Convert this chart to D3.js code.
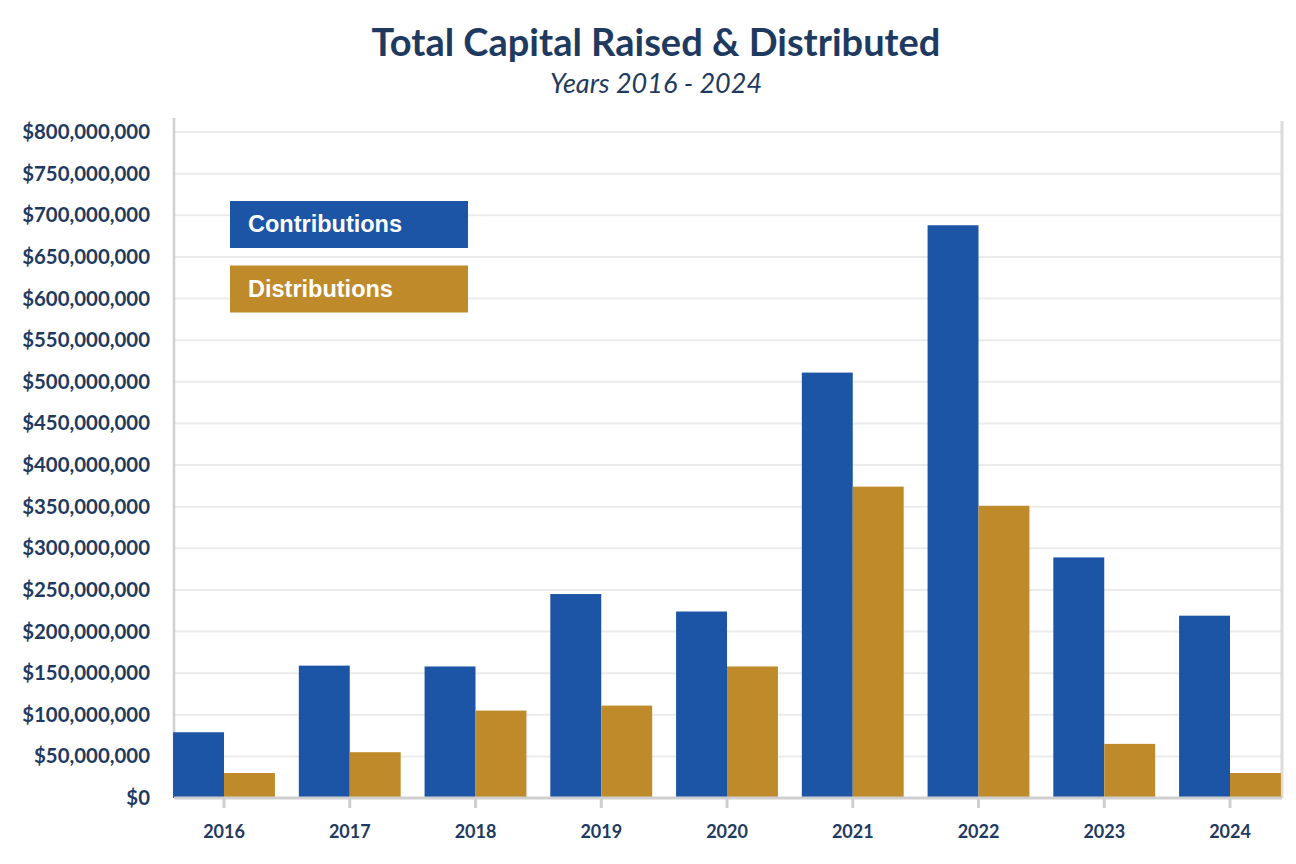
<!DOCTYPE html>
<html>
<head>
<meta charset="utf-8">
<script src="https://cdn.jsdelivr.net/npm/d3@7"></script>
<style>
	body { margin: 0; background: #ffffff; }
	svg { display: block; }
	.label { font-family: Lato, "Open Sans", sans-serif; font-weight: 700; fill: #1f3a60; }
</style>
</head>
<body>
<svg width="1296" height="864"></svg>
<script>
// Values (dollars)
const years = ["2016", "2017", "2018", "2019", "2020", "2021", "2022", "2023", "2024"];
const contributions = [79e6, 159e6, 158e6, 245e6, 224e6, 511e6, 688e6, 289e6, 219e6];
const distributions = [30e6, 55e6, 105e6, 111e6, 158e6, 374e6, 351e6, 65e6, 30e6];
const seriesNames = ["Contributions", "Distributions"];
const seriesColors = ["#1c55a5", "#bf8a2a"];
const yTicks = d3.range(0, 800e6 + 1, 50e6);

const svg = d3.select("svg");

const plotLeft = 174, plotRight = 1282, plotTop = 132, plotBottom = 798;
const step = 125.75;			// distance between year centres
const firstCentre = 224;		// centre of the 2016 group

// Outer band scale for the years
const x = d3.scaleBand()
	.domain(years)
	.range([firstCentre - step / 2, firstCentre - step / 2 + step * years.length])
	.paddingInner(0.19)
	.paddingOuter(0.095);

// Inner band scale for the two series in each year
const xs = d3.scaleBand()
	.domain(seriesNames)
	.range([0, x.bandwidth()]);

const y = d3.scaleLinear()
	.domain([0, 800e6])
	.range([plotBottom, plotTop]);

// Gridlines
svg.append("g")
	.selectAll("line")
	.data(yTicks.filter(d => d > 0))
	.join("line")
	.attr("x1", plotLeft).attr("x2", plotRight)
	.attr("y1", d => y(d)).attr("y2", d => y(d))
	.attr("stroke", "#ebebeb")
	.attr("stroke-width", 2);

// Left and right frame lines
svg.append("line")
	.attr("x1", plotLeft).attr("x2", plotLeft)
	.attr("y1", 118).attr("y2", plotBottom)
	.attr("stroke", "#d0d0d0").attr("stroke-width", 2.5);
svg.append("line")
	.attr("x1", plotRight).attr("x2", plotRight)
	.attr("y1", 121).attr("y2", plotBottom)
	.attr("stroke", "#dcdcdc").attr("stroke-width", 3);

// Bars
const table = years.map((yr, i) => ({ year: yr, values: [contributions[i], distributions[i]] }));

svg.append("g")
	.selectAll("g")
	.data(table)
	.join("g")
	.attr("transform", d => `translate(${x(d.year)},0)`)
	.selectAll("rect")
	.data(d => d.values.map((v, j) => ({ name: seriesNames[j], value: v, color: seriesColors[j] })))
	.join("rect")
	.attr("x", d => xs(d.name))
	.attr("y", d => y(d.value))
	.attr("width", xs.bandwidth())
	.attr("height", d => y(0) - y(d.value))
	.attr("fill", d => d.color);

// X axis
const xAxis = d3.axisBottom(x).tickSize(10).tickPadding(17);
const xg = svg.append("g")
	.attr("transform", `translate(0,${plotBottom})`)
	.call(xAxis);
xg.select(".domain")
	.attr("d", `M${plotLeft},0H${plotRight}`)
	.attr("stroke", "#cfcfcf").attr("stroke-width", 3);
xg.selectAll(".tick line").attr("stroke", "#cfcfcf").attr("stroke-width", 3);
xg.selectAll(".tick text")
	.attr("class", "label")
	.style("font-size", "18px");

// Y axis
const yAxis = d3.axisLeft(y)
	.tickValues(yTicks)
	.tickFormat(d => "$" + d3.format(",")(d))
	.tickSize(0)
	.tickPadding(24);
const yg = svg.append("g")
	.attr("transform", `translate(${plotLeft},0)`)
	.call(yAxis);
yg.select(".domain").remove();
yg.selectAll(".tick text")
	.attr("class", "label")
	.style("font-size", "20.4px");

// Title and subtitle
svg.append("text")
	.attr("class", "label")
	.attr("x", 656).attr("y", 56)
	.attr("text-anchor", "middle")
	.style("font-size", "38px")
	.text("Total Capital Raised & Distributed");

svg.append("text")
	.attr("x", 656).attr("y", 93)
	.attr("text-anchor", "middle")
	.style("font-family", "Lato, sans-serif")
	.style("font-style", "italic")
	.style("font-size", "27px")
	.style("fill", "#1f3a60")
	.text("Years 2016 - 2024");

// Legend boxes
const legend = svg.append("g").attr("transform", "translate(230,201)");
const items = legend.selectAll("g")
	.data(seriesNames)
	.join("g")
	.attr("transform", (d, i) => `translate(0,${i * 64.5})`);
items.append("rect")
	.attr("width", 238).attr("height", 47)
	.attr("fill", (d, i) => seriesColors[i]);
items.append("text")
	.attr("x", 18).attr("y", 31)
	.style("font-family", "'Liberation Sans', Arial, sans-serif")
	.style("font-weight", "700")
	.style("font-size", "23.5px")
	.style("fill", "#ffffff")
	.text(d => d);
</script>
</body>
</html>
